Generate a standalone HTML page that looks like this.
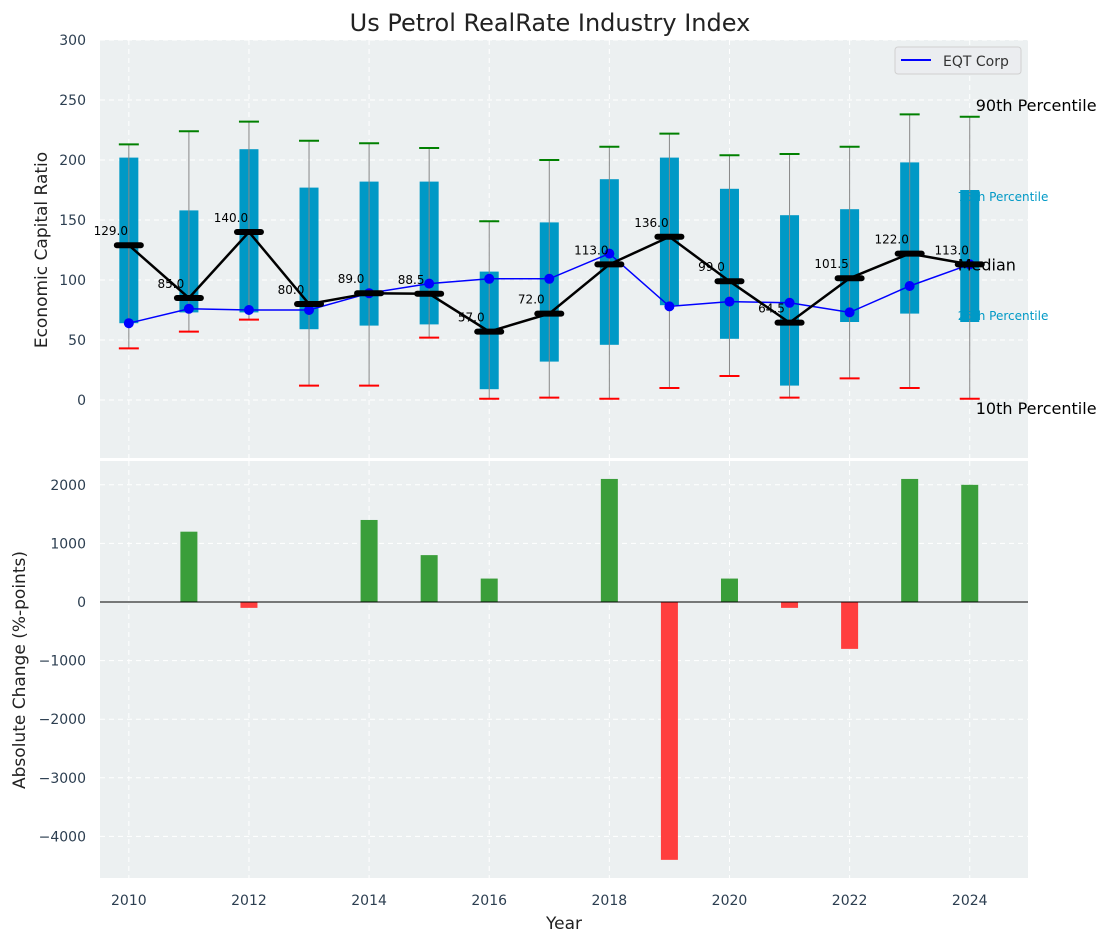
<!DOCTYPE html>
<html><head><meta charset="utf-8"><style>
body{margin:0;background:#fff;font-family:"Liberation Sans","DejaVu Sans",sans-serif}
svg text{font-family:"DejaVu Sans","Liberation Sans",sans-serif}
</style></head><body>
<svg id="c" width="1111" height="942" xmlns="http://www.w3.org/2000/svg"></svg>
<script>
const years=[2010,2011,2012,2013,2014,2015,2016,2017,2018,2019,2020,2021,2022,2023,2024];
const p90=[213,224,232,216,214,210,149,200,211,222,204,205,211,238,236];
const p75=[202,158,209,177,182,182,107,148,184,202,176,154,159,198,175];
const p25=[64,73,73,59,62,63,9,32,46,79,51,12,65,72,65];
const p10=[43,57,67,12,12,52,1,2,1,10,20,2,18,10,1];
const medians=[129,85,140,80,89,88.5,57,72,113,136,99,64.5,101.5,122,113];
const eqt=[64,76,75,75,89,97,101,101,122,78,82,81,73,95,113];
const changes=[0,1200,-100,0,1400,800,400,0,2100,-4400,400,-100,-800,2100,2000];
const topTicks=[0,50,100,150,200,250,300];
const botTicks=[-4000,-3000,-2000,-1000,0,1000,2000];

const svg=document.getElementById('c');const NS='http://www.w3.org/2000/svg';
function el(t,a,p){const e=document.createElementNS(NS,t);for(const k in a)e.setAttribute(k,a[k]);(p||svg).appendChild(e);return e;}
function tx(s,a,p){const e=el('text',a,p);e.textContent=s;return e;}
const L=100,R=1028;
const x=v=>L+(v-2009.52)/(2024.97-2009.52)*(R-L);
const yT=v=>400-v*1.2;
const yB=v=>602-v*0.0586;
el('rect',{x:L,y:40,width:R-L,height:418,fill:'#ecf0f1',});
el('rect',{x:L,y:461,width:R-L,height:417,fill:'#ecf0f1',});
const g=el('g',{stroke:'#fff','stroke-dasharray':'5,4','stroke-width':1});

for(let yr=2010;yr<=2024;yr+=2){el('line',{x1:x(yr),x2:x(yr),y1:40,y2:458},g);el('line',{x1:x(yr),x2:x(yr),y1:461,y2:878},g);}
topTicks.forEach(t=>el('line',{x1:L,x2:R,y1:yT(t),y2:yT(t)},g));
botTicks.forEach(t=>el('line',{x1:L,x2:R,y1:yB(t),y2:yB(t)},g));
topTicks.forEach(t=>{const e=tx(t,{x:86,y:yT(t)+5,'text-anchor':'end','font-size':14,fill:'#2c3e50'});});
botTicks.forEach(t=>{const e=tx(t.toString().replace('-','\u2212'),{x:86,y:yB(t)+5,'text-anchor':'end','font-size':14,fill:'#2c3e50'});});
for(let yr=2010;yr<=2024;yr+=2){const e=tx(yr,{x:x(yr),y:905,'text-anchor':'middle','font-size':14,fill:'#2c3e50'});}
years.forEach((yr,i)=>{
 const cx=x(yr);
 const b=el('rect',{x:cx-9.5,y:yT(p75[i]),width:19,height:yT(p25[i])-yT(p75[i]),fill:'#0099c6'});
 
 const w=el('line',{x1:cx,x2:cx,y1:yT(p90[i]),y2:yT(p10[i]),stroke:'#888','stroke-width':1});
 
 const c1=el('line',{x1:cx-10,x2:cx+10,y1:yT(p90[i]),y2:yT(p90[i]),stroke:'green','stroke-width':2});
 
 const c2=el('line',{x1:cx-10,x2:cx+10,y1:yT(p10[i]),y2:yT(p10[i]),stroke:'red','stroke-width':2});
 
});
const ep=el('polyline',{points:years.map((yr,i)=>x(yr)+','+yT(eqt[i])).join(' '),fill:'none',stroke:'blue','stroke-width':1.5});

years.forEach((yr,i)=>{const d=el('circle',{cx:x(yr),cy:yT(eqt[i]),r:5,fill:'blue'});});
const mp=el('polyline',{points:years.map((yr,i)=>x(yr)+','+yT(medians[i])).join(' '),fill:'none',stroke:'#000','stroke-width':2.5});

years.forEach((yr,i)=>{const cx=x(yr),cy=yT(medians[i]);
 const m=el('line',{x1:cx-12,x2:cx+12,y1:cy,y2:cy,stroke:'#000','stroke-width':6,'stroke-linecap':'round'});
 
 const t=tx(medians[i].toFixed(1),{x:cx-18,y:cy-10,'text-anchor':'middle','font-size':12,fill:'#000'});
 
});
const lx=x(2024);
[['90th Percentile',lx+6,yT(p90[14])-6,16,'#000'],['75th Percentile',lx-12,yT(p75[14])+11,12,'#0099c6'],['Median',lx-12,yT(medians[14])+6,16,'#000'],['25th Percentile',lx-12,yT(p25[14])-2,12,'#0099c6'],['10th Percentile',lx+6,yT(p10[14])+15,16,'#000']].forEach(a=>{
 const t=tx(a[0],{x:a[1],y:a[2],'font-size':a[3],fill:a[4]});});
const lg=el('g',{});
el('rect',{x:895,y:47,width:126,height:27,rx:3,fill:'#ebedf0',stroke:'#d0d0d0'},lg);
el('line',{x1:901,x2:931,y1:60,y2:60,stroke:'blue','stroke-width':2},lg);
tx('EQT Corp',{x:943,y:66,'font-size':14,fill:'#333'},lg);
years.forEach((yr,i)=>{const v=changes[i];if(!v)return;const y0=yB(0),y1=yB(v);
 const b=el('rect',{x:x(yr)-8.5,y:Math.min(y0,y1),width:17,height:Math.abs(y1-y0),fill:v>0?'#3a9e3a':'#ff3e3e'});
 });
el('line',{x1:L,x2:R,y1:yB(0),y2:yB(0),stroke:'#000','stroke-width':1});
let t=tx('Us Petrol RealRate Industry Index',{x:550,y:31,'text-anchor':'middle','font-size':24,fill:'#222'});
t=tx('Economic Capital Ratio',{x:0,y:0,'text-anchor':'middle','font-size':17,fill:'#222',transform:'translate(47,250) rotate(-90)'});
t=tx('Absolute Change (%-points)',{x:0,y:0,'text-anchor':'middle','font-size':17,fill:'#222',transform:'translate(25,670) rotate(-90)'});
t=tx('Year',{x:564,y:929,'text-anchor':'middle','font-size':17,fill:'#222'});
</script>
</body></html>
